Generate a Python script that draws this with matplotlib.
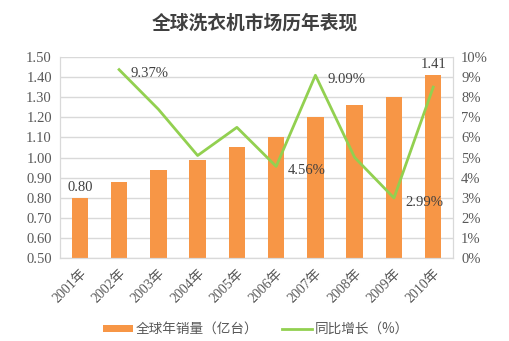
import numpy as np
import matplotlib.pyplot as plt

years = ["2001年", "2002年", "2003年", "2004年", "2005年",
         "2006年", "2007年", "2008年", "2009年", "2010年"]
sales = [0.80, 0.88, 0.94, 0.99, 1.05, 1.10, 1.20, 1.26, 1.30, 1.41]
# growth is missing for the first year
growth = [np.nan, 9.37, 7.4, 5.1, 6.5, 4.56, 9.09, 5.0, 2.99, 8.5]
bar_labels = {0: "0.80", 9: "1.41"}
growth_labels = {1: "9.37%", 5: "4.56%", 6: "9.09%", 8: "2.99%"}

serif = ["Liberation Serif", "Noto Sans CJK SC"]
cjk = ["Noto Sans CJK SC", "DejaVu Sans"]
txt = "#595959"

fig = plt.figure(figsize=(5.1, 3.41), dpi=100)
ax = fig.add_axes([0.118, 0.243, 0.770, 0.590])
ax2 = ax.twinx()

x = np.arange(len(years))
ax.bar(x, sales, width=0.42, color="#F79646", zorder=2, label="全球年销量（亿台）")
ax2.plot(x, growth, color="#92D050", lw=2, zorder=3, label="同比增长（%）")

ax.set_xlim(-0.5, 9.5)
ax.set_ylim(0.5, 1.5)
ax.set_yticks(np.arange(0.5, 1.501, 0.1))
ax.set_yticklabels([f"{v:.2f}" for v in np.arange(0.5, 1.501, 0.1)])
ax2.set_ylim(0, 10)
ax2.set_yticks(range(0, 11))
ax2.set_yticklabels([f"{v}%" for v in range(0, 11)])

ax.set_xticks(x)
ax.set_xticklabels(years, rotation=45, ha="right", rotation_mode="anchor")
for lab in ax.get_xticklabels():
    lab.set_family(serif)
    lab.set_fontsize(10)
    lab.set_color(txt)
for a in (ax, ax2):
    for lab in a.get_yticklabels():
        lab.set_family(serif)
        lab.set_fontsize(10.5)
        lab.set_color(txt)
    a.tick_params(length=0, pad=6)
    for s in a.spines.values():
        s.set_color("#D9D9D9")
    a.spines["top"].set_visible(False)

ax.grid(axis="y", color="#D9D9D9", lw=1, zorder=0)
ax.set_axisbelow(True)

for i, lab in bar_labels.items():
    ax.text(x[i], sales[i] + 0.02, lab, ha="center", va="bottom",
            family=serif, fontsize=10.5, color="#404040")
for i, lab in growth_labels.items():
    ax2.text(x[i] + 0.3, growth[i] - 0.2, lab, ha="left", va="center",
             family=serif, fontsize=10.5, color="#404040")

fig.text(0.5, 0.932, "全球洗衣机市场历年表现", ha="center", va="center",
         family=cjk, fontsize=13.5, fontweight="bold", color="#404040")

h1, l1 = ax.get_legend_handles_labels()
h2, l2 = ax2.get_legend_handles_labels()
fig.legend(h1 + h2, l1 + l2, loc="center", bbox_to_anchor=(0.502, 0.035), ncol=2,
           frameon=False, prop={"family": cjk, "size": 9.8}, labelcolor=txt,
           handlelength=2.2, handleheight=0.45, columnspacing=1.8,
           handletextpad=0.2)

fig.savefig("out.png", dpi=100)
